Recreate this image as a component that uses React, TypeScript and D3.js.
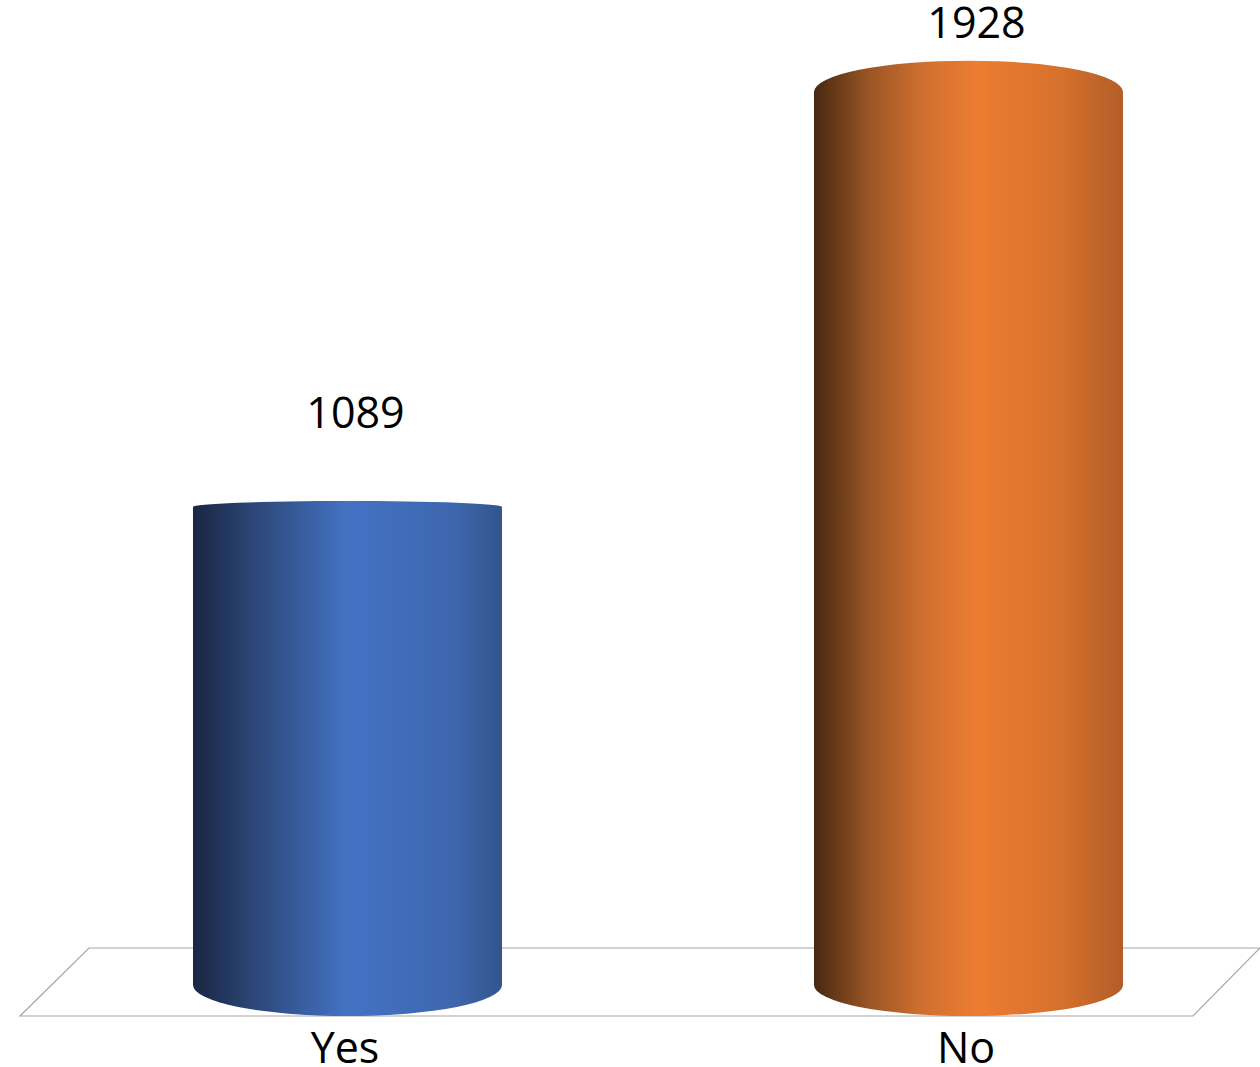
import React from "react";
import * as d3 from "d3";

const categories = ["Yes", "No"];
const values = [1089, 1928];
const gradientStops = [
  [
    { o: 0, c: "#1a2642" },
    { o: 0.2, c: "#2c4778" },
    { o: 0.5, c: "#4472c4" },
    { o: 0.85, c: "#3d66ad" },
    { o: 1, c: "#32558c" },
  ],
  [
    { o: 0, c: "#472811" },
    { o: 0.18, c: "#9a5624" },
    { o: 0.35, c: "#cf6f30" },
    { o: 0.53, c: "#ed7d31" },
    { o: 0.8, c: "#d6702d" },
    { o: 1, c: "#b25e28" },
  ],
];

const W = 1260;
const H = 1067;
const FONT = "'Open Sans', 'Noto Sans', sans-serif";

export default function App() {
  const x = d3.scaleBand<string>().domain(categories).range([37, 1279]);
  const y = d3.scalePow().exponent(1.094).domain([0, 1928]).range([985, 92]);
  const base = y(0);
  const ryBottom = 31;
  const eye = 510;
  const rTop = (yy: number) => Math.max(6, Math.abs(yy - eye) * 0.075);
  const cw = x.bandwidth() * 0.4976;

  const floor = d3.line()([
    [89, 948],
    [1260, 948],
    [1193, 1016],
    [20, 1016],
  ]) + "Z";

  return (
    <svg width={W} height={H} style={{ position: "absolute", left: 0, top: 0, background: "#fff" }}>
      <defs>
        {categories.map((c, i) => (
          <linearGradient key={c} id={`g${i}`} x1="0" x2="1" y1="0" y2="0">
            {gradientStops[i].map((s, k) => (
              <stop key={k} offset={s.o} stopColor={s.c} />
            ))}
          </linearGradient>
        ))}
      </defs>
      <path d={floor} fill="none" stroke="#a6a6a6" strokeWidth={1.2} />
      {categories.map((c, i) => {
        const cx = (x(c) as number) + x.bandwidth() / 2;
        const l = cx - cw / 2;
        const r = cx + cw / 2;
        const top = y(values[i]);
        const rt = rTop(top);
        const rx = cw / 2;
        const d = `M${l},${top} A${rx},${rt} 0 0 1 ${r},${top} L${r},${base} A${rx},${ryBottom} 0 0 1 ${l},${base} Z`;
        const ly = Math.max(top - 79, 38);
        return (
          <g key={c}>
            <path d={d} fill={`url(#g${i})`} />
            <text x={cx + 8} y={ly} textAnchor="middle" fontFamily={FONT} fontSize={43} fill="#000">
              {values[i]}
            </text>
            <text x={cx - 2.5} y={1063} textAnchor="middle" fontFamily={FONT} fontSize={43} fill="#000">
              {c}
            </text>
          </g>
        );
      })}
    </svg>
  );
}
